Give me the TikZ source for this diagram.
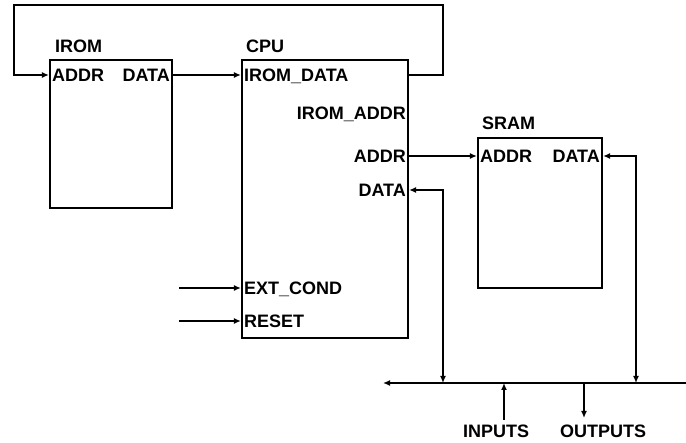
\documentclass[tikz,border=0pt]{standalone}
\usepackage{fontspec}
\setmainfont{Liberation Sans}
\usetikzlibrary{arrows.meta}
\newcommand{\pinfont}{\fontsize{18}{21}\selectfont\bfseries}
\begin{document}
\begin{tikzpicture}[x=1pt, y=-1pt,
  blk/.style = {draw, line width=2.2pt, inner sep=0pt},
  pin/.style = {font=\pinfont, inner xsep=3pt, inner ysep=0pt, text height=13pt, text depth=0pt},
  ttl/.style = {font=\pinfont, inner sep=0pt, anchor=base west},
  arrow/.style = {line width=2.2pt, -{Latex[length=7pt,width=6pt]}},
  dblarrow/.style = {line width=2.2pt, {Latex[length=7pt,width=6pt]}-{Latex[length=7pt,width=6pt]}}
]
\useasboundingbox (0,0) rectangle (686,443);

% Blocks (pixel layout, y grows downward)
\node [blk, minimum width=122pt, minimum height=148pt] (irom) at (111,134) {};
\node [blk, minimum width=166pt, minimum height=278pt] (cpu) at (325,199) {};
\node [blk, minimum width=124pt, minimum height=150pt] (sram) at (540,213) {};

% Titles
\node [ttl] (iromttl) at (55,53) {IROM};
\node [ttl] (cputtl) at (246,53) {CPU};
\node [ttl] (sramttl) at (482,130) {SRAM};

% Pins
\node [pin, anchor=west] (iromaddr) at (irom.west |- 0,75) {ADDR};
\node [pin, anchor=east] (iromdata) at (irom.east |- 0,75) {DATA};
\node [pin, anchor=west] (cpuiromdata) at (cpu.west |- 0,75) {IROM\_DATA};
\node [pin, anchor=east] (cpuiromaddr) at (cpu.east |- 0,113) {IROM\_ADDR};
\node [pin, anchor=east] (cpuaddr) at (cpu.east |- 0,156) {ADDR};
\node [pin, anchor=east] (cpudata) at (cpu.east |- 0,190) {DATA};
\node [pin, anchor=west] (extcond) at (cpu.west |- 0,288) {EXT\_COND};
\node [pin, anchor=west] (reset) at (cpu.west |- 0,321) {RESET};
\node [pin, anchor=west] (sramaddr) at (sram.west |- 0,156) {ADDR};
\node [pin, anchor=east] (sramdata) at (sram.east |- 0,156) {DATA};

% Bus labels
\node [pin] (inputs) at (496,431.5) {INPUTS};
\node [pin] (outputs) at (603,431.5) {OUTPUTS};

% Free ends
\coordinate (loopr) at (443,5);
\coordinate (loopl) at (14,5);
\coordinate (extin) at (179,288);
\coordinate (resetin) at (179,321);
\coordinate (busl) at (383,383);
\coordinate (busr) at (686,383);
\coordinate (cpubus) at (443,383);
\coordinate (srambus) at (636,383);
\coordinate (inlow) at (504,420);
\coordinate (inbus) at (504,383);
\coordinate (outbus) at (584,383);
\coordinate (outlow) at (584,418);

% Arrows
\draw [arrow] (cpu.east |- iromaddr) -| (loopr) -- (loopl) |- (iromaddr.west);
\draw [arrow] (iromdata.east) -- (cpuiromdata.west);
\draw [arrow] (cpuaddr.east) -- (sramaddr.west);
\draw [arrow] (extin) -- (extcond.west);
\draw [arrow] (resetin) -- (reset.west);

% Bus
\draw [arrow] (busr) -- (busl);
\draw [dblarrow] (cpudata.east) -| (cpubus);
\draw [dblarrow] (sramdata.east) -| (srambus);
\draw [arrow] (inlow) -- (inbus);
\draw [arrow] (outbus) -- (outlow);

\end{tikzpicture}
\end{document}
